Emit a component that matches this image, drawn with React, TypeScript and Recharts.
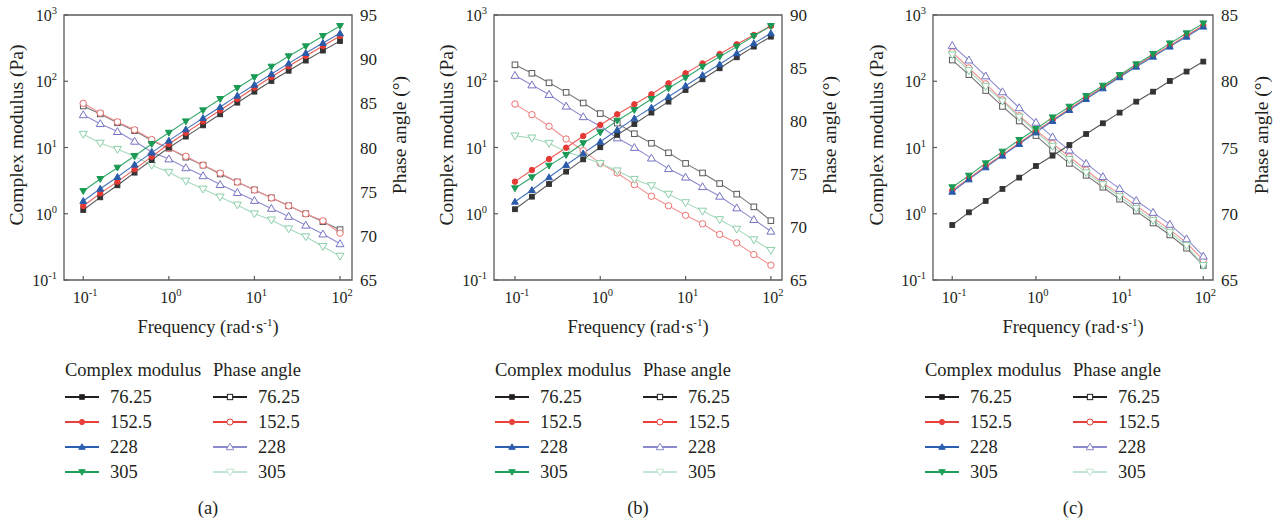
import React from 'react'
import { LineChart, Line, XAxis, YAxis, ReferenceArea } from 'recharts'

const FONT = '"Liberation Serif", "Times New Roman", serif'
const INK = '#231f20'
const FRAME = '#5a5a5a'

// angular frequency, rad/s (5 points per decade)
const FREQ = [0.1, 0.158, 0.251, 0.398, 0.631, 1, 1.58, 2.51, 3.98, 6.31, 10, 15.8, 25.1, 39.8, 63.1, 100]
const SAMPLE_LABELS = ['76.25', '152.5', '228', '305']
const FREQ_TICKS = [0.1, 1, 10, 100]
const MODULUS_TICKS = [0.1, 1, 10, 100, 1000]

// (a)
const A_MOD_76 = [1.14, 1.77, 2.69, 4.17, 6.47, 9.94, 14.6, 21.6, 31.7, 47.5, 69.6, 101, 144, 205, 290, 405]
const A_MOD_152 = [1.31, 2.03, 3.05, 4.68, 7.28, 11.3, 16.7, 24.8, 36.4, 54.0, 80.0, 116, 168, 240, 340, 482]
const A_MOD_228 = [1.56, 2.39, 3.59, 5.51, 8.36, 12.7, 18.8, 27.9, 40.8, 60.6, 88.8, 129, 186, 267, 378, 529]
const A_MOD_305 = [2.2, 3.35, 4.96, 7.44, 11.3, 16.7, 24.8, 36.4, 54.0, 79.1, 115, 166, 238, 337, 482, 682]
const A_PHASE_76 = [84.7, 83.8, 82.8, 81.9, 80.8, 79.9, 78.9, 78.0, 77.0, 76.1, 75.2, 74.3, 73.4, 72.5, 71.6, 70.7]
const A_PHASE_152 = [85.0, 83.9, 82.9, 82.0, 80.9, 79.9, 79.0, 78.0, 77.1, 76.1, 75.2, 74.3, 73.4, 72.5, 71.7, 70.3]
const A_PHASE_228 = [83.7, 82.7, 81.8, 80.7, 79.5, 78.7, 77.7, 76.8, 75.8, 74.9, 74.0, 73.1, 72.2, 71.2, 70.2, 69.1]
const A_PHASE_305 = [81.5, 80.5, 79.8, 79.0, 78.0, 77.2, 76.2, 75.3, 74.4, 73.5, 72.5, 71.8, 70.8, 69.9, 68.8, 67.7]

// (b)
const B_MOD_76 = [1.17, 1.81, 2.81, 4.32, 6.62, 10.1, 15.5, 22.6, 33.6, 49.2, 73.8, 107, 157, 230, 333, 471]
const B_MOD_152 = [3.05, 4.57, 6.7, 9.94, 14.9, 21.9, 31.7, 44.9, 63.5, 93.1, 132, 186, 258, 361, 499, 682]
const B_MOD_228 = [1.52, 2.28, 3.55, 5.45, 8.17, 12.2, 18.4, 27.5, 39.9, 58.5, 85.7, 124, 180, 264, 373, 529]
const B_MOD_305 = [2.42, 3.55, 5.32, 7.71, 11.6, 16.9, 25.4, 36.8, 54.0, 78.2, 113, 166, 235, 333, 482, 682]
const B_PHASE_76 = [85.3, 84.5, 83.6, 82.7, 81.7, 80.7, 79.8, 78.8, 77.9, 77.0, 76.0, 75.1, 74.1, 73.1, 71.9, 70.6]
const B_PHASE_152 = [81.6, 80.6, 79.5, 78.3, 77.2, 76.0, 75.1, 74.0, 72.9, 72.0, 71.1, 70.3, 69.3, 68.5, 67.4, 66.4]
const B_PHASE_228 = [84.3, 83.4, 82.5, 81.4, 80.4, 79.5, 78.4, 77.5, 76.5, 75.5, 74.7, 73.8, 72.9, 71.8, 70.7, 69.6]
const B_PHASE_305 = [78.6, 78.4, 77.9, 77.1, 76.6, 76.0, 75.3, 74.5, 73.9, 73.1, 72.3, 71.5, 70.7, 69.8, 68.8, 67.8]

// (c)
const C_MOD_76 = [0.676, 1.05, 1.56, 2.37, 3.51, 5.26, 7.53, 10.9, 16.0, 23.2, 33.6, 49.2, 69.6, 101, 140, 198]
const C_MOD_152 = [2.25, 3.42, 5.2, 7.8, 11.7, 17.5, 26.0, 38.1, 56.0, 81.0, 119, 172, 244, 345, 490, 695]
const C_MOD_228 = [2.15, 3.3, 5.02, 7.53, 11.3, 16.9, 25.1, 36.8, 54.0, 78.2, 115, 166, 235, 333, 471, 667]
const C_MOD_305 = [2.51, 3.76, 5.77, 8.65, 13.0, 19.0, 28.5, 41.3, 59.8, 85.7, 124, 180, 258, 373, 529, 748]
const C_PHASE_76 = [81.6, 80.5, 79.3, 78.1, 77.0, 75.9, 74.8, 73.8, 72.9, 72.0, 71.1, 70.2, 69.3, 68.4, 67.4, 66.1]
const C_PHASE_152 = [82.2, 81.0, 79.8, 78.6, 77.4, 76.3, 75.3, 74.3, 73.3, 72.3, 71.5, 70.6, 69.7, 68.8, 67.8, 66.5]
const C_PHASE_228 = [82.7, 81.6, 80.4, 79.2, 78.0, 76.9, 75.8, 74.8, 73.8, 72.8, 71.9, 71.0, 70.1, 69.2, 68.1, 66.8]
const C_PHASE_305 = [82.0, 80.8, 79.6, 78.5, 77.3, 76.2, 75.1, 74.1, 73.1, 72.2, 71.3, 70.4, 69.5, 68.6, 67.6, 66.1]

type Shape = 'square' | 'circle' | 'up' | 'down'

interface SeriesStyle {
  stroke: string
  mark: string
  legend: string
  shape: Shape
  filled: boolean
}

const MOD_STYLES: SeriesStyle[] = [
  { stroke: '#555555', mark: '#333333', legend: '#231f20', shape: 'square', filled: true },
  { stroke: '#ec5a53', mark: '#e53935', legend: '#e8403a', shape: 'circle', filled: true },
  { stroke: '#4673bb', mark: '#2a5caa', legend: '#2d5fb0', shape: 'up', filled: true },
  { stroke: '#35a86c', mark: '#1a9a55', legend: '#1fa05a', shape: 'down', filled: true },
]

const PHASE_STYLES: SeriesStyle[] = [
  { stroke: '#767676', mark: '#5a5a5a', legend: '#231f20', shape: 'square', filled: false },
  { stroke: '#f29393', mark: '#ee7070', legend: '#e8403a', shape: 'circle', filled: false },
  { stroke: '#8c8ccf', mark: '#7474c2', legend: '#8a8acc', shape: 'up', filled: false },
  { stroke: '#a6dabd', mark: '#8ccfa9', legend: '#c3e6d3', shape: 'down', filled: false },
]

interface PanelConfig {
  caption: string
  plotLeft: number
  plotWidth: number
  xDomain: [number, number]
  phaseDomain: [number, number]
  phaseTicks: number[]
  modulus: number[][]
  phase: number[][]
  leftTitleX: number
  rightTitleX: number
  legendX: number
}

const PANELS: PanelConfig[] = [
  {
    caption: '(a)',
    plotLeft: 64,
    plotWidth: 288,
    xDomain: [0.0596, 138],
    phaseDomain: [65, 95],
    phaseTicks: [65, 70, 75, 80, 85, 90, 95],
    modulus: [A_MOD_76, A_MOD_152, A_MOD_228, A_MOD_305],
    phase: [A_PHASE_76, A_PHASE_152, A_PHASE_228, A_PHASE_305],
    leftTitleX: 17,
    rightTitleX: 400,
    legendX: 65,
  },
  {
    caption: '(b)',
    plotLeft: 494,
    plotWidth: 288,
    xDomain: [0.0568, 135],
    phaseDomain: [65, 90],
    phaseTicks: [65, 70, 75, 80, 85, 90],
    modulus: [B_MOD_76, B_MOD_152, B_MOD_228, B_MOD_305],
    phase: [B_PHASE_76, B_PHASE_152, B_PHASE_228, B_PHASE_305],
    leftTitleX: 447,
    rightTitleX: 830,
    legendX: 495,
  },
  {
    caption: '(c)',
    plotLeft: 933,
    plotWidth: 280,
    xDomain: [0.0589, 130.6],
    phaseDomain: [65, 85],
    phaseTicks: [65, 70, 75, 80, 85],
    modulus: [C_MOD_76, C_MOD_152, C_MOD_228, C_MOD_305],
    phase: [C_PHASE_76, C_PHASE_152, C_PHASE_228, C_PHASE_305],
    leftTitleX: 877,
    rightTitleX: 1262,
    legendX: 925,
  },
]

const PLOT_TOP = 15
const PLOT_H = 265
const AXIS_W = 60
const X_AXIS_H = 40
const TICK_FONT = 16

function Marker({ cx, cy, style, scale = 1 }: { cx: number; cy: number; style: SeriesStyle; scale?: number }) {
  const props = {
    fill: style.filled ? style.mark : '#ffffff',
    stroke: style.mark,
    strokeWidth: 1,
  }
  const s = (style.filled ? 0.85 : 1) * scale
  if (style.shape === 'square')
    return <rect x={cx - 2.8 * s} y={cy - 2.8 * s} width={5.6 * s} height={5.6 * s} {...props} />
  if (style.shape === 'circle') return <circle cx={cx} cy={cy} r={3.2 * s} {...props} />
  if (style.shape === 'up')
    return (
      <polygon
        points={`${cx},${cy - 4 * s} ${cx - 4 * s},${cy + 2.9 * s} ${cx + 4 * s},${cy + 2.9 * s}`}
        {...props}
      />
    )
  return (
    <polygon
      points={`${cx},${cy + 4 * s} ${cx - 4 * s},${cy - 2.9 * s} ${cx + 4 * s},${cy - 2.9 * s}`}
      {...props}
    />
  )
}

const exponent = (v: number) => Math.round(Math.log10(v))

function PowerText({ x, y, value, anchor }: { x: number; y: number; value: number; anchor: 'start' | 'middle' | 'end' }) {
  return (
    <text x={x} y={y} textAnchor={anchor} fontSize={TICK_FONT} fontFamily={FONT} fill={INK}>
      <tspan>10</tspan>
      <tspan dy={-7} fontSize={10.5}>{exponent(value)}</tspan>
    </text>
  )
}

function FreqTick(props: any) {
  const { x, y, payload } = props
  return (
    <g>
      <line x1={x} x2={x} y1={y} y2={y - 4} stroke={FRAME} strokeWidth={1.2} />
      <PowerText x={x + 2} y={y + 23} value={payload.value} anchor="middle" />
    </g>
  )
}

function ModulusTick(props: any) {
  const { x, y, payload } = props
  return (
    <g>
      <line x1={x} x2={x + 4} y1={y} y2={y} stroke={FRAME} strokeWidth={1.2} />
      <PowerText x={x - 7} y={y + 6} value={payload.value} anchor="end" />
    </g>
  )
}

function PhaseTick(props: any) {
  const { x, y, payload } = props
  return (
    <text x={x + 8} y={y + 6} textAnchor="start" fontSize={17} fontFamily={FONT} fill={INK}>
      {payload.value}
    </text>
  )
}

function LegendSample({ style }: { style: SeriesStyle }) {
  return (
    <svg width={34} height={12} style={{ position: 'absolute', left: 0, top: 5 }}>
      <line x1={0} x2={34} y1={6} y2={6} stroke={style.legend} strokeWidth={2.2} />
      <Marker cx={17} cy={6} style={{ ...style, mark: style.legend }} scale={0.95} />
    </svg>
  )
}

const textBox = (left: number, cy: number, size = 18.5): React.CSSProperties => ({
  position: 'absolute',
  left,
  top: cy - 12,
  height: 24,
  lineHeight: '24px',
  fontSize: size,
  color: INK,
  whiteSpace: 'nowrap',
})

function VerticalTitle({ cx, cy, children }: { cx: number; cy: number; children: React.ReactNode }) {
  return (
    <div
      style={{
        position: 'absolute',
        left: cx - 130,
        top: cy - 12,
        width: 260,
        height: 24,
        lineHeight: '24px',
        textAlign: 'center',
        fontSize: 19.5,
        color: INK,
        whiteSpace: 'nowrap',
        transform: 'rotate(-90deg)',
      }}
    >
      {children}
    </div>
  )
}

function Panel({ cfg }: { cfg: PanelConfig }) {
  const rows = FREQ.map((f, i) => {
    const row: Record<string, number> = { f }
    cfg.modulus.forEach((s, k) => (row[`m${k}`] = s[i]))
    cfg.phase.forEach((s, k) => (row[`p${k}`] = s[i]))
    return row
  })
  const centerX = cfg.plotLeft + cfg.plotWidth / 2
  const rowY = [397, 422, 447, 472]

  return (
    <>
      <div style={{ position: 'absolute', left: cfg.plotLeft - AXIS_W, top: 0 }}>
        <LineChart
          width={AXIS_W * 2 + cfg.plotWidth}
          height={PLOT_TOP + PLOT_H + X_AXIS_H}
          data={rows}
          margin={{ top: PLOT_TOP, right: 0, bottom: 0, left: 0 }}
        >
          <XAxis
            dataKey="f"
            type="number"
            scale="log"
            domain={cfg.xDomain}
            allowDataOverflow
            ticks={FREQ_TICKS}
            interval={0}
            axisLine={false}
            tickLine={false}
            tickSize={0}
            tickMargin={0}
            height={X_AXIS_H}
            tick={FreqTick}
          />
          <YAxis
            yAxisId="mod"
            type="number"
            scale="log"
            domain={[0.1, 1000]}
            allowDataOverflow
            ticks={MODULUS_TICKS}
            interval={0}
            axisLine={false}
            tickLine={false}
            tickSize={0}
            tickMargin={0}
            width={AXIS_W}
            tick={ModulusTick}
          />
          <YAxis
            yAxisId="phase"
            orientation="right"
            type="number"
            domain={cfg.phaseDomain}
            allowDataOverflow
            ticks={cfg.phaseTicks}
            interval={0}
            axisLine={false}
            tickLine={false}
            tickSize={0}
            tickMargin={0}
            width={AXIS_W}
            tick={PhaseTick}
          />
          <ReferenceArea
            yAxisId="mod"
            x1={cfg.xDomain[0]}
            x2={cfg.xDomain[1]}
            y1={0.1}
            y2={1000}
            fill="none"
            fillOpacity={0}
            stroke={FRAME}
            strokeWidth={1.3}
            ifOverflow="visible"
          />
          {PHASE_STYLES.map((st, k) => (
            <Line
              key={`p${k}`}
              yAxisId="phase"
              dataKey={`p${k}`}
              type="linear"
              stroke={st.stroke}
              strokeWidth={1.1}
              isAnimationActive={false}
              dot={(p: any) => <Marker key={`p${k}-${p.index}`} cx={p.cx} cy={p.cy} style={st} />}
              activeDot={false}
            />
          ))}
          {MOD_STYLES.map((st, k) => (
            <Line
              key={`m${k}`}
              yAxisId="mod"
              dataKey={`m${k}`}
              type="linear"
              stroke={st.stroke}
              strokeWidth={1.1}
              isAnimationActive={false}
              dot={(p: any) => <Marker key={`m${k}-${p.index}`} cx={p.cx} cy={p.cy} style={st} />}
              activeDot={false}
            />
          ))}
        </LineChart>
      </div>

      <VerticalTitle cx={cfg.leftTitleX} cy={135}>Complex modulus (Pa)</VerticalTitle>
      <VerticalTitle cx={cfg.rightTitleX} cy={135}>Phase angle (°)</VerticalTitle>

      <div style={{ ...textBox(centerX - 120, 327), width: 240, textAlign: 'center' }}>
        Frequency (rad·s<span style={{ fontSize: 11, position: 'relative', top: -7 }}>-1</span>)
      </div>

      <div style={textBox(cfg.legendX, 370)}>Complex modulus</div>
      <div style={textBox(cfg.legendX + 148, 370)}>Phase angle</div>
      {SAMPLE_LABELS.map((label, k) => (
        <React.Fragment key={label}>
          <div style={{ position: 'absolute', left: cfg.legendX, top: rowY[k] - 11, width: 34, height: 22 }}>
            <LegendSample style={MOD_STYLES[k]} />
          </div>
          <div style={textBox(cfg.legendX + 45, rowY[k])}>{label}</div>
          <div style={{ position: 'absolute', left: cfg.legendX + 148, top: rowY[k] - 11, width: 34, height: 22 }}>
            <LegendSample style={PHASE_STYLES[k]} />
          </div>
          <div style={textBox(cfg.legendX + 193, rowY[k])}>{label}</div>
        </React.Fragment>
      ))}

      <div style={{ ...textBox(centerX - 30, 508), width: 60, textAlign: 'center' }}>{cfg.caption}</div>
    </>
  )
}

export default function App() {
  return (
    <div
      style={{
        position: 'absolute',
        left: 0,
        top: 0,
        width: 1282,
        height: 525,
        background: '#ffffff',
        fontFamily: FONT,
        overflow: 'hidden',
      }}
    >
      {PANELS.map((cfg) => (
        <Panel key={cfg.caption} cfg={cfg} />
      ))}
    </div>
  )
}
